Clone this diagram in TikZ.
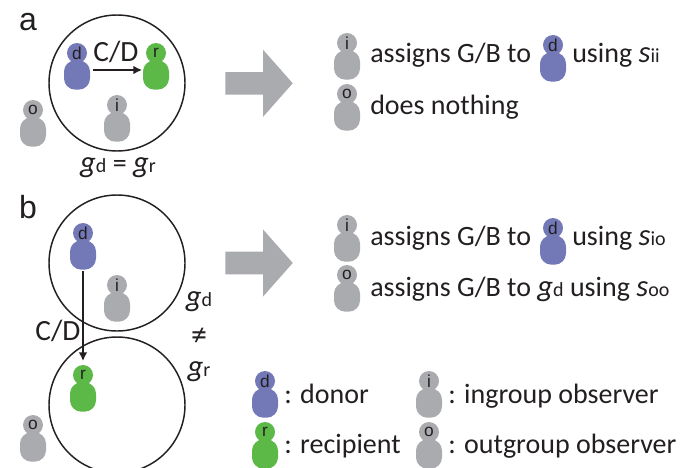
\documentclass[tikz,border=0pt]{standalone}
\usepackage{fontspec}
\setmainfont{Carlito}
\newfontfamily\labelfont{Liberation Sans}
\usetikzlibrary{shapes.arrows,arrows.meta}
\definecolor{donorblue}{HTML}{7378B7}
\definecolor{recipgreen}{HTML}{5CB947}
\definecolor{obsgrey}{HTML}{A9ABAE}
\definecolor{inkgrey}{HTML}{231F20}
\tikzset{
  x=0.75pt, y=-0.75pt,
  body/.style={fill=#1, rounded corners=8.5pt, minimum width=19.5pt, minimum height=22pt, inner sep=0pt},
  head/.style={circle, fill=#1, minimum size=15pt, inner sep=0pt, text=inkgrey, font=\fontsize{13}{13}\labelfont},
  group/.style={circle, draw=inkgrey, line width=1.1pt, minimum size=102pt, inner sep=0pt},
  say/.style={anchor=base west, inner sep=0pt, text=inkgrey, font=\fontsize{21}{21}\selectfont},
  cd/.style={text=inkgrey, font=\fontsize{22}{22}\selectfont, inner sep=0pt},
  gname/.style={text=inkgrey, font=\fontsize{21}{21}\selectfont, inner sep=0pt},
  panel/.style={text=inkgrey, font=\fontsize{24}{24}\labelfont, inner sep=0pt},
  bigarrow/.style={single arrow, anchor=tail, fill=obsgrey, minimum height=50.6pt, inner xsep=0pt, inner ysep=8.25pt, single arrow head extend=16.7pt, single arrow tip angle=97},
  act/.style={-{Latex[length=6.5pt,width=6.5pt]}, draw=inkgrey, line width=1.1pt},
}
\newcommand{\gval}[1]{{\fontsize{23}{23}\selectfont\textit{g}}{\fontsize{15}{15}\selectfont #1}}
\newcommand{\sval}[1]{{\fontsize{23}{23}\selectfont\textit{s}}{\fontsize{15}{15}\selectfont #1}}
% name, body centre, colour, letter
\newcommand{\person}[5]{
  \node[body=#4] (#1b) at (#2,#3) {};
  \node[head=#4] (#1h) at (#2,#3-22) {#5};
}
\begin{document}
\begin{tikzpicture}
  \useasboundingbox (0,0) rectangle (691,467);

  % panel a
  \node[panel] (pa) at (28,22) {a};
  \node[group] (ca) at (117,83) {};
  \person{ad}{77}{75}{donorblue}{d}
  \person{ar}{156}{75}{recipgreen}{r}
  \person{ai}{117}{127}{obsgrey}{i}
  \person{ao}{33}{132}{obsgrey}{o}
  \coordinate (as) at (93,70);
  \coordinate (ae) at (142,70);
  \draw[act] (as) -- (ae);
  \node[cd] (acd) at (116,52) {C/D};
  \node[gname] (ag) at (118,168) {\gval{d} = \gval{r}};
  \node[bigarrow] (ga) at (225,83.3) {};

  \person{ri}{347}{65}{obsgrey}{i}
  \node[say] (ta) at (370,63) {assigns G/B to};
  \person{rd}{553}{67}{donorblue}{d}
  \node[say] (tu) at (572,63) {using \sval{ii}};
  \person{ro}{347}{116}{obsgrey}{o}
  \node[say] (tn) at (370,114) {does nothing};

  % panel b
  \node[panel] (pb) at (28,207) {b};
  \node[group] (cb) at (117,263) {};
  \node[group] (cc) at (117,405) {};
  \person{bd}{83}{255}{donorblue}{d}
  \person{bi}{117}{307}{obsgrey}{i}
  \person{br}{83}{397}{recipgreen}{r}
  \person{bo}{33}{447}{obsgrey}{o}
  \coordinate (bs) at (83,271);
  \coordinate (be) at (83,361);
  \draw[act] (bs) -- (be);
  \node[cd] (bcd) at (58,331) {C/D};
  \node[gname] (g1) at (199,302) {\gval{d}};
  \node[gname, font=\fontsize{24}{24}\selectfont] (g2) at (199,337) {≠};
  \node[gname] (g3) at (199,372) {\gval{r}};
  \node[bigarrow] (gb) at (225,263) {};

  \person{si}{347}{247}{obsgrey}{i}
  \node[say] (t1) at (370,245) {assigns G/B to};
  \person{sd}{553}{250}{donorblue}{d}
  \node[say] (t2) at (572,245) {using \sval{io}};
  \person{so}{347}{297}{obsgrey}{o}
  \node[say] (t3) at (370,296) {assigns G/B to \gval{d} using \sval{oo}};

  % legend
  \person{ld}{265}{403}{donorblue}{d}
  \node[say] (l1) at (284,403) {: donor};
  \person{lr}{265}{454}{recipgreen}{r}
  \node[say] (l2) at (284,453) {: recipient};
  \person{li}{429}{403}{obsgrey}{i}
  \node[say] (l3) at (448,403) {: ingroup observer};
  \person{lo}{429}{454}{obsgrey}{o}
  \node[say] (l4) at (448,453) {: outgroup observer};
\end{tikzpicture}
\end{document}
